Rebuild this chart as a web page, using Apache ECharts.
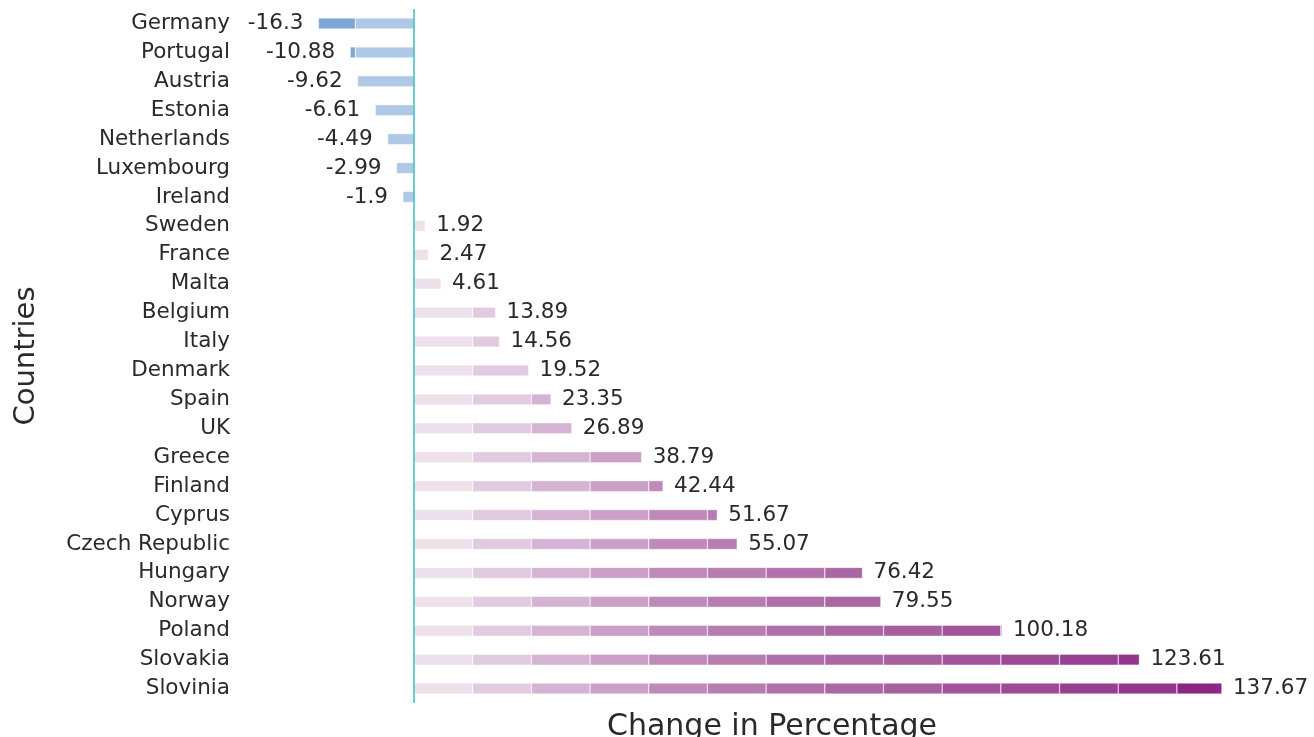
<!DOCTYPE html>
<html>
<head>
<meta charset="utf-8">
<script src="https://cdn.jsdelivr.net/npm/echarts@6/dist/echarts.min.js"></script>
<style>
  html, body { margin: 0; padding: 0; background: #fff; }
  #chart { width: 1314px; height: 737px; }
</style>
</head>
<body>
<div id="chart"></div>
<script>
// data
var countries = ['Germany', 'Portugal', 'Austria', 'Estonia', 'Netherlands', 'Luxembourg', 'Ireland',
  'Sweden', 'France', 'Malta', 'Belgium', 'Italy', 'Denmark', 'Spain', 'UK', 'Greece', 'Finland',
  'Cyprus', 'Czech Republic', 'Hungary', 'Norway', 'Poland', 'Slovakia', 'Slovinia'];
var changes = [-16.3, -10.88, -9.62, -6.61, -4.49, -2.99, -1.9, 1.92, 2.47, 4.61, 13.89, 14.56,
  19.52, 23.35, 26.89, 38.79, 42.44, 51.67, 55.07, 76.42, 79.55, 100.18, 123.61, 137.67];

// each bar is split in blocks of 10 points, darker the further out
var step = 10;
var posColors = ['#ede1ec', '#e0cbe0', '#d5b3d2', '#caa0c6', '#bf8aba', '#b77db1', '#b070a9',
  '#ab67a3', '#a75f9f', '#a2539a', '#9d4a96', '#973f91', '#93358c', '#8d2585'];
var negColors = ['#aec8e6', '#7da5d6'];
var font = 'DejaVu Sans';

function block(v, k, sign) {
  var rest = sign * v - step * k;
  if (rest <= 0) return '-';
  return sign * Math.min(rest, step);
}

var blockStyle = { borderColor: 'rgba(255,255,255,0.75)', borderWidth: 0.5 };
var series = [];
posColors.forEach(function (c, k) {
  series.push({
    type: 'bar', stack: 'pos', barWidth: 11, silent: true,
    itemStyle: Object.assign({ color: c }, blockStyle),
    data: changes.map(function (v) { return block(v, k, 1); })
  });
});
negColors.forEach(function (c, k) {
  series.push({
    type: 'bar', stack: 'neg', barWidth: 11, silent: true,
    itemStyle: Object.assign({ color: c }, blockStyle),
    data: changes.map(function (v) { return block(v, k, -1); })
  });
});
// invisible full bar, only carries the value label
series.push({
  type: 'bar', barWidth: 11, barGap: '-100%', silent: true, z: 1,
  itemStyle: { color: 'rgba(0,0,0,0)' },
  data: changes.map(function (v) {
    return {
      value: v,
      label: {
        show: true, position: v < 0 ? 'left' : 'right', distance: v < 0 ? 15 : 11,
        color: '#2a2a2a', fontFamily: font, fontSize: 21.5
      }
    };
  }),
  markLine: {
    silent: true, symbol: 'none',
    label: { show: false },
    lineStyle: { color: '#38bcbf', width: 1.5, type: 'solid' },
    data: [{ xAxis: 0 }]
  }
});

var chart = echarts.init(document.getElementById('chart'));
chart.setOption({
  animation: false,
  grid: { left: 238, right: 8, top: 9, bottom: 34, containLabel: false, outerBoundsMode: 'none' },
  xAxis: {
    type: 'value', min: -30, max: 152,
    name: 'Change in Percentage', nameLocation: 'middle', nameGap: 9,
    nameTextStyle: { fontFamily: font, fontSize: 30, color: '#2a2a2a', verticalAlign: 'top' },
    axisLine: { show: false }, axisTick: { show: false },
    axisLabel: { show: false }, splitLine: { show: false }
  },
  yAxis: {
    type: 'category', data: countries, inverse: true,
    name: 'Countries', nameLocation: 'middle', nameGap: 197,
    nameTextStyle: { fontFamily: font, fontSize: 29, color: '#2a2a2a' },
    axisLine: { show: false }, axisTick: { show: false },
    axisLabel: { fontFamily: font, fontSize: 21.5, color: '#2a2a2a', margin: 8 }
  },
  series: series
});
</script>
</body>
</html>
